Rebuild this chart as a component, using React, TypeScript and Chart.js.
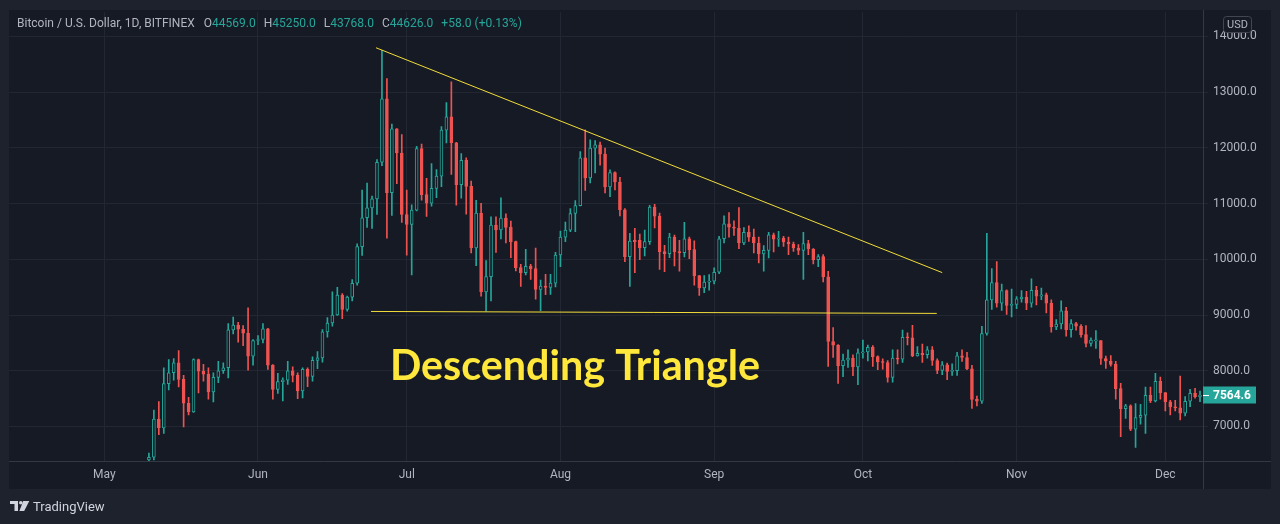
import React, { useEffect, useRef } from "react";
import { Chart, registerables } from "chart.js";

Chart.register(...registerables);

// x values are days counted from 1 May 2019
const firstDay = 9;

const opens = [
  6400, 6447, 7131, 6976, 7768, 7964, 8143, 7845, 7417, 7262,
  8202, 7994, 7940, 7619, 7881, 8000, 8054, 8732, 8821, 8744,
  8673, 8262, 8542, 8560, 8750, 8101, 7667, 7804, 7833, 8000,
  7917, 7637, 8024, 7899, 8185, 8232, 8696, 8857, 9000, 9356,
  9101, 9320, 9570, 10228, 10745, 10923, 11083, 11742, 12881, 11196,
  12341, 11908, 10804, 10626, 10881, 11985, 11160, 11006, 11273, 11492,
  12318, 12555, 12092, 11338, 11777, 11308, 10205, 10828, 9415, 9688,
  10614, 10525, 10739, 10573, 10316, 9851, 9762, 9875, 9833, 9458,
  9518, 9494, 9571, 10077, 10399, 10524, 10821, 10964, 11821, 11458,
  11994, 12054, 11887, 11298, 11554, 11387, 10887, 10048, 10340, 10340,
  10208, 10316, 10935, 10774, 10137, 10101, 10399, 10137, 10119, 10369,
  10173, 9708, 9488, 9589, 9607, 9768, 10369, 10637, 10577, 10560,
  10292, 10482, 10399, 10292, 10095, 10161, 10440, 10363, 10381, 10310,
  10274, 10202, 10161, 10280, 10185, 9994, 10048, 9685, 8524, 8458,
  8089, 8191, 8226, 8070, 8320, 8337, 8420, 8254, 8160, 8148,
  7882, 8225, 8207, 8598, 8592, 8266, 8314, 8290, 8373, 8183,
  8006, 8107, 7988, 8000, 8266, 8237, 8036, 7485, 7456, 8669,
  9272, 9580, 9213, 9438, 9172, 9189, 9290, 9320, 9213, 9445,
  9340, 9363, 9214, 8786, 8839, 9077, 8738, 8845, 8798, 8649,
  8488, 8536, 8542, 8220, 8173, 8113, 7679, 7321, 7369, 6952,
  7161, 7202, 7560, 7458, 7810, 7607, 7441, 7351, 7333, 7238,
  7452, 7595, 7536,
];

const highs = [
  6524, 7292, 7446, 8054, 8202, 8220, 8363, 7917, 7524, 8214,
  8210, 8113, 8054, 7964, 8167, 8143, 8845, 8964, 8869, 8810,
  9131, 8560, 8631, 8845, 8760, 8110, 7952, 7875, 8167, 8071,
  7964, 8054, 8054, 8250, 8345, 8738, 8952, 9415, 9498, 9386,
  9338, 9635, 10276, 11243, 11368, 11136, 11789, 13748, 13243, 12424,
  12345, 12240, 11243, 10976, 12027, 12068, 11451, 11718, 11611, 12383,
  12810, 13184, 12100, 11896, 11819, 11403, 11059, 11006, 9979, 10763,
  10763, 11101, 10816, 10685, 10327, 9911, 10179, 9911, 10202, 9625,
  9732, 9732, 10125, 10506, 10667, 10911, 11054, 11935, 12321, 12143,
  12131, 12101, 11994, 11607, 11571, 11470, 10911, 10464, 10554, 10452,
  10524, 10970, 10988, 10827, 10250, 10464, 10435, 10339, 10661, 10399,
  10333, 9708, 9708, 9726, 9845, 10411, 10780, 10839, 10690, 10929,
  10571, 10601, 10542, 10399, 10244, 10482, 10470, 10500, 10411, 10399,
  10310, 10262, 10482, 10339, 10190, 10083, 10083, 9786, 8774, 8470,
  8298, 8375, 8286, 8391, 8550, 8462, 8450, 8266, 8213, 8183,
  8373, 8373, 8728, 8681, 8817, 8432, 8479, 8432, 8432, 8213,
  8166, 8136, 8124, 8331, 8373, 8331, 8095, 7544, 8799, 10467,
  9834, 9959, 9556, 9450, 9467, 9331, 9438, 9426, 9650, 9515,
  9482, 9393, 9274, 8917, 9256, 9137, 8917, 8869, 8827, 8810,
  8589, 8720, 8542, 8262, 8274, 8167, 7774, 7399, 7387, 7411,
  7399, 7708, 7708, 7952, 7887, 7607, 7470, 7470, 7905, 7536,
  7667, 7685, 7637,
];

const lows = [
  6320, 6400, 6851, 6875, 7655, 7833, 7708, 6994, 7208, 7250,
  7601, 7815, 7488, 7441, 7786, 7952, 7869, 8661, 8512, 8452,
  8012, 8101, 8470, 8500, 8024, 7488, 7595, 7458, 7756, 7798,
  7500, 7512, 7714, 7815, 8036, 8155, 8601, 8798, 8994, 8935,
  9071, 9255, 9534, 10068, 10573, 10555, 10804, 11682, 10377, 10786,
  11356, 10662, 10074, 9719, 10869, 11059, 10768, 10952, 11107, 11303,
  12086, 11522, 10970, 11095, 10810, 10116, 9884, 9338, 9071, 9255,
  10122, 10365, 10294, 10030, 9792, 9512, 9720, 9637, 9286, 9077,
  9363, 9369, 9506, 9869, 10316, 10494, 10494, 10958, 11238, 11369,
  11548, 11690, 11190, 11125, 11244, 10780, 9958, 9512, 9762, 9994,
  10060, 10268, 10565, 9816, 9780, 10030, 9881, 9786, 10042, 10012,
  9536, 9351, 9399, 9446, 9560, 9744, 10292, 10399, 10429, 10190,
  10262, 10321, 10113, 9935, 9786, 10024, 10131, 10232, 10232, 10083,
  10143, 10083, 9637, 10083, 9917, 9869, 9595, 8077, 8238, 7774,
  7893, 8060, 7911, 7750, 8225, 8178, 8077, 8018, 8030, 7793,
  7793, 8124, 8148, 8462, 8254, 8260, 8148, 8225, 8095, 7947,
  7929, 7840, 7917, 7917, 8166, 8018, 7325, 7367, 7414, 8639,
  9101, 9142, 9083, 9012, 8965, 9112, 9231, 9095, 9142, 9180,
  9274, 9036, 8690, 8738, 8750, 8619, 8601, 8726, 8601, 8429,
  8440, 8399, 8113, 8042, 8083, 7488, 6815, 7143, 6923, 6625,
  7042, 6875, 7429, 7441, 7488, 7280, 7208, 7280, 7119, 7190,
  7357, 7506, 7447,
];

const closes = [
  6447, 7131, 6976, 7768, 7964, 8143, 7845, 7417, 7262, 8202,
  7994, 7940, 7619, 7881, 8000, 8054, 8732, 8821, 8744, 8673,
  8262, 8542, 8560, 8750, 8101, 7667, 7804, 7833, 8000, 7917,
  7637, 8024, 7899, 8185, 8232, 8696, 8857, 9000, 9356, 9101,
  9320, 9570, 10228, 10745, 10923, 11083, 11742, 12881, 11196, 12341,
  11908, 10804, 10626, 10881, 11985, 11160, 11006, 11273, 11492, 12318,
  12555, 12092, 11338, 11777, 11308, 10205, 10828, 9415, 9688, 10614,
  10525, 10739, 10573, 10316, 9851, 9762, 9875, 9833, 9458, 9518,
  9494, 9571, 10077, 10399, 10524, 10821, 10964, 11821, 11458, 11994,
  12054, 11887, 11298, 11554, 11387, 10887, 10048, 10327, 10316, 10208,
  10316, 10935, 10774, 10137, 10101, 10399, 10137, 10119, 10369, 10173,
  9708, 9488, 9589, 9607, 9768, 10369, 10637, 10577, 10560, 10292,
  10482, 10399, 10292, 10095, 10161, 10440, 10363, 10381, 10310, 10274,
  10202, 10161, 10280, 10185, 9994, 10048, 9685, 8524, 8458, 8089,
  8191, 8226, 8070, 8320, 8337, 8420, 8254, 8160, 8148, 7882,
  8225, 8207, 8598, 8592, 8266, 8314, 8290, 8373, 8183, 8006,
  8107, 7988, 8000, 8266, 8237, 8036, 7485, 7456, 8669, 9272,
  9580, 9213, 9438, 9172, 9189, 9290, 9320, 9213, 9445, 9340,
  9363, 9214, 8786, 8839, 9077, 8738, 8845, 8798, 8649, 8488,
  8548, 8542, 8220, 8173, 8113, 7679, 7321, 7369, 6952, 7161,
  7202, 7560, 7458, 7810, 7607, 7441, 7351, 7333, 7238, 7452,
  7595, 7536, 7564.6,
];

const monthDays = [0, 31, 61, 92, 123, 153, 184, 214];
const monthLabels = ["May", "Jun", "Jul", "Aug", "Sep", "Oct", "Nov", "Dec"];
const priceTicks = [7000, 8000, 9000, 10000, 11000, 12000, 13000, 14000];

// triangle drawing, in (day, price)
const resistanceLine = [
  { x: 54.8, y: 13796 },
  { x: 169.0, y: 9761 },
];
const supportLine = [
  { x: 53.8, y: 9064 },
  { x: 167.9, y: 9029 },
];
const patternLabel = "Descending Triangle";
const labelDay = 57.6;
const labelPrice = 7827;

const lastPrice = 7564.6;
const legendTitle = "Bitcoin / U.S. Dollar, 1D, BITFINEX";
const legendValues = [
  ["O", "44569.0"],
  ["H", "45250.0"],
  ["L", "43768.0"],
  ["C", "44626.0"],
];
const legendChange = "+58.0 (+0.13%)";

const OUTER = "#1e222d";
const PANEL = "#161a25";
const GRID = "#232733";
const EDGE = "#343845";
const TEXT = "#b2b5be";
const TEAL = "#26a69a";
const RED = "#ef5350";
const YELLOW = "#f2dd3a";
const FONT = "Roboto, 'Liberation Sans', sans-serif";

const panel = { left: 9, top: 10, right: 1271, bottom: 489 };

const App: React.FC = () => {
  const canvasRef = useRef<HTMLCanvasElement>(null);

  useEffect(() => {
    if (!canvasRef.current) return;
    document.body.style.margin = "0";

    const days = opens.map((_, i) => firstDay + i);
    const up = days.map((_, i) => closes[i] >= opens[i]);
    const bodies = days.map((d, i) => ({ x: d, y: [opens[i], closes[i]] }));
    const wicks = days.map((d, i) => ({ x: d, y: [lows[i], highs[i]] }));

    const backdrop = {
      id: "backdrop",
      beforeDraw(chart: Chart) {
        const ctx = chart.ctx;
        ctx.save();
        ctx.fillStyle = OUTER;
        ctx.fillRect(0, 0, chart.width, chart.height);
        ctx.fillStyle = PANEL;
        ctx.fillRect(panel.left, panel.top, panel.right - panel.left, panel.bottom - panel.top);
        ctx.restore();
      },
    };

    const overlay = {
      id: "overlay",
      afterDraw(chart: Chart) {
        const ctx = chart.ctx;
        const area = chart.chartArea;
        const xs = chart.scales.x;
        const ys = chart.scales.y;
        ctx.save();

        // pane separators
        ctx.strokeStyle = EDGE;
        ctx.lineWidth = 1;
        ctx.beginPath();
        ctx.moveTo(panel.left, Math.round(area.bottom) + 0.5);
        ctx.lineTo(panel.right, Math.round(area.bottom) + 0.5);
        ctx.moveTo(Math.round(area.right) + 0.5, panel.top);
        ctx.lineTo(Math.round(area.right) + 0.5, panel.bottom);
        ctx.stroke();

        // legend
        ctx.textBaseline = "middle";
        ctx.font = `12px ${FONT}`;
        let lx = 17;
        const ly = 24;
        ctx.fillStyle = TEXT;
        ctx.fillText(legendTitle, lx, ly);
        lx += ctx.measureText(legendTitle).width + 9;
        legendValues.forEach(([k, v]) => {
          ctx.fillStyle = TEXT;
          ctx.fillText(k, lx, ly);
          lx += ctx.measureText(k).width;
          ctx.fillStyle = TEAL;
          ctx.fillText(v, lx, ly);
          lx += ctx.measureText(v).width + 8;
        });
        ctx.fillStyle = TEAL;
        ctx.fillText(legendChange, lx, ly);

        // USD badge
        ctx.beginPath();
        ctx.roundRect(1223.5, 16.5, 28, 16, 3);
        ctx.fillStyle = PANEL;
        ctx.fill();
        ctx.strokeStyle = "#434651";
        ctx.stroke();
        ctx.fillStyle = TEXT;
        ctx.font = `11px ${FONT}`;
        ctx.textAlign = "center";
        ctx.fillText("USD", 1237.5, 25);

        // last price label
        const py = ys.getPixelForValue(lastPrice);
        ctx.fillStyle = TEAL;
        ctx.fillRect(area.right, py - 8.5, 53, 17);
        ctx.strokeStyle = "#ffffff";
        ctx.beginPath();
        ctx.moveTo(area.right, Math.round(py) + 0.5);
        ctx.lineTo(area.right + 6, Math.round(py) + 0.5);
        ctx.stroke();
        ctx.fillStyle = "#ffffff";
        ctx.font = `bold 12px ${FONT}`;
        ctx.textAlign = "left";
        ctx.fillText(lastPrice.toFixed(1), area.right + 10, py + 0.5);

        // pattern label
        const tx = xs.getPixelForValue(labelDay);
        const ty = ys.getPixelForValue(labelPrice);
        ctx.font = `bold 38px Lato, ${FONT}`;
        const w = ctx.measureText(patternLabel).width;
        const size = (38 * 370) / w;
        ctx.font = `bold ${size.toFixed(1)}px Lato, ${FONT}`;
        ctx.fillStyle = "#ffe83b";
        ctx.textBaseline = "alphabetic";
        ctx.fillText(patternLabel, tx, ty);

        // TradingView mark
        ctx.fillStyle = "#d1d4dc";
        ctx.fillRect(10, 501, 8, 3);
        ctx.fillRect(14.5, 501, 3.5, 10);
        ctx.beginPath();
        ctx.arc(20.8, 502.8, 1.8, 0, Math.PI * 2);
        ctx.fill();
        ctx.beginPath();
        ctx.moveTo(23.2, 501);
        ctx.lineTo(29.3, 501);
        ctx.lineTo(24.2, 511);
        ctx.lineTo(19.4, 511);
        ctx.closePath();
        ctx.fill();
        ctx.font = `13px ${FONT}`;
        ctx.fillText("TradingView", 33, 511);

        ctx.restore();
      },
    };

    const chart = new Chart(canvasRef.current, {
      type: "bar",
      data: {
        datasets: [
          {
            type: "line",
            data: resistanceLine,
            borderColor: YELLOW,
            borderWidth: 1,
            pointRadius: 0,
            order: -2,
          },
          {
            type: "line",
            data: supportLine,
            borderColor: YELLOW,
            borderWidth: 1,
            pointRadius: 0,
            order: -1,
          },
          {
            data: bodies as any,
            backgroundColor: up.map((u) => (u ? PANEL : RED)),
            borderColor: up.map((u) => (u ? TEAL : RED)),
            borderWidth: 1,
            borderSkipped: false,
            barThickness: 3,
            minBarLength: 1,
            grouped: false,
            order: 0,
          },
          {
            data: wicks as any,
            backgroundColor: up.map((u) => (u ? TEAL : RED)),
            borderWidth: 0,
            barThickness: 1,
            grouped: false,
            order: 1,
          },
        ],
      },
      options: {
        responsive: true,
        maintainAspectRatio: false,
        animation: false,
        layout: { padding: { left: 9, top: 10, right: 9, bottom: 35 } },
        plugins: { legend: { display: false }, tooltip: { enabled: false } },
        scales: {
          x: {
            type: "linear",
            min: -19.22,
            max: 221.6,
            offset: false,
            border: { display: false },
            grid: { color: GRID, drawTicks: false, offset: false },
            ticks: {
              color: TEXT,
              font: { size: 12, family: FONT },
              padding: 7,
              autoSkip: false,
              maxRotation: 0,
              callback: (v) => monthLabels[monthDays.indexOf(Number(v))] ?? "",
            },
            afterBuildTicks: (s) => {
              s.ticks = monthDays.map((v) => ({ value: v }));
            },
            afterFit: (s) => {
              s.height = 28;
            },
          },
          y: {
            position: "right",
            min: 6380.3,
            max: 14433.9,
            border: { display: false },
            grid: { color: GRID, tickLength: 5, tickColor: GRID },
            ticks: {
              color: TEXT,
              font: { size: 12, family: FONT },
              padding: 5,
              callback: (v) => Number(v).toFixed(1),
            },
            afterBuildTicks: (s) => {
              s.ticks = priceTicks.map((v) => ({ value: v }));
            },
            afterFit: (s) => {
              s.width = 68;
            },
          },
        },
      },
      plugins: [backdrop, overlay],
    });

    return () => {
      chart.destroy();
    };
  }, []);

  return (
    <div style={{ position: "fixed", left: 0, top: 0, width: 1280, height: 524 }}>
      <canvas ref={canvasRef} />
    </div>
  );
};

export default App;
